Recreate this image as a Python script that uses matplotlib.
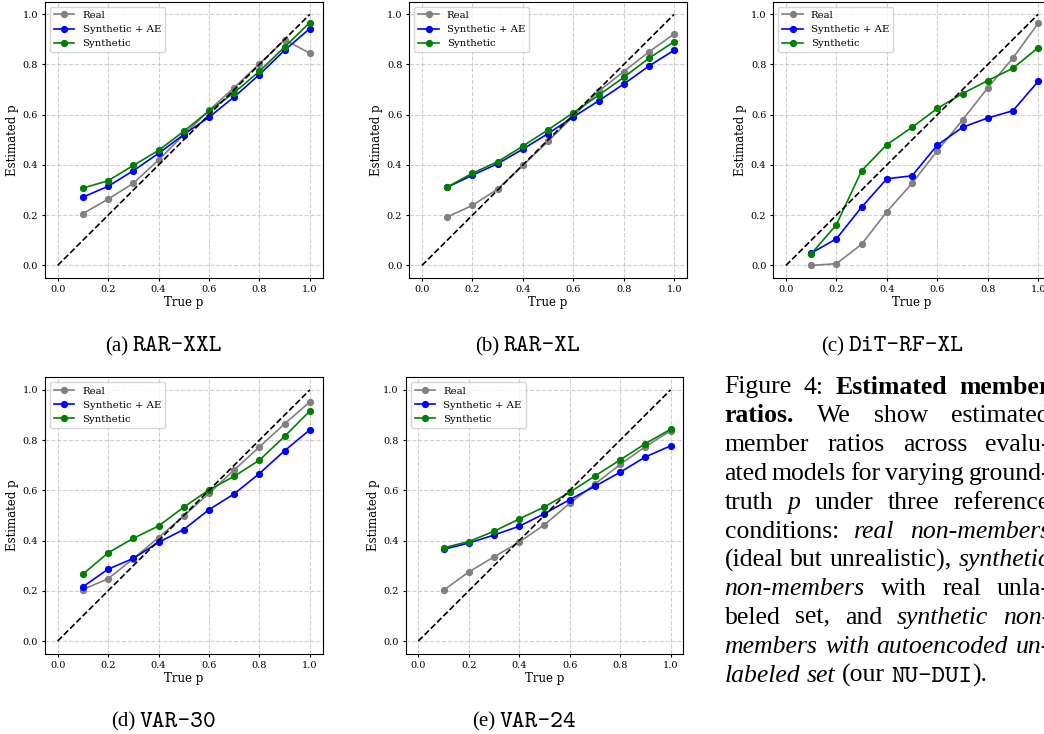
import os
import matplotlib
matplotlib.use("Agg")
import matplotlib.pyplot as plt
from matplotlib.font_manager import FontProperties

# true member ratio on the x axis
p_true = [0.1, 0.2, 0.3, 0.4, 0.5, 0.6, 0.7, 0.8, 0.9, 1.0]

# (a) RAR-XXL
rar_xxl_real = [0.206, 0.264, 0.327, 0.420, 0.520, 0.617, 0.708, 0.803, 0.898, 0.845]
rar_xxl_ae = [0.272, 0.315, 0.377, 0.446, 0.521, 0.590, 0.671, 0.760, 0.857, 0.943]
rar_xxl_syn = [0.308, 0.337, 0.398, 0.458, 0.534, 0.615, 0.688, 0.773, 0.870, 0.967]

# (b) RAR-XL
rar_xl_real = [0.193, 0.239, 0.304, 0.398, 0.494, 0.594, 0.693, 0.772, 0.850, 0.922]
rar_xl_ae = [0.311, 0.359, 0.405, 0.463, 0.525, 0.591, 0.655, 0.722, 0.794, 0.857]
rar_xl_syn = [0.312, 0.367, 0.413, 0.475, 0.540, 0.608, 0.677, 0.749, 0.825, 0.891]

# (c) DiT-RF-XL
dit_real = [0.000, 0.007, 0.084, 0.214, 0.327, 0.456, 0.579, 0.707, 0.826, 0.964]
dit_ae = [0.049, 0.106, 0.232, 0.345, 0.357, 0.479, 0.550, 0.587, 0.616, 0.733]
dit_syn = [0.046, 0.162, 0.377, 0.481, 0.550, 0.625, 0.684, 0.736, 0.785, 0.867]

# (d) VAR-30
var30_real = [0.205, 0.248, 0.328, 0.412, 0.498, 0.588, 0.681, 0.773, 0.865, 0.952]
var30_ae = [0.216, 0.286, 0.329, 0.393, 0.444, 0.523, 0.586, 0.667, 0.758, 0.841]
var30_syn = [0.266, 0.351, 0.409, 0.458, 0.533, 0.602, 0.656, 0.720, 0.815, 0.916]

# (e) VAR-24
var24_real = [0.202, 0.275, 0.335, 0.394, 0.463, 0.548, 0.625, 0.703, 0.774, 0.837]
var24_ae = [0.365, 0.390, 0.422, 0.457, 0.507, 0.563, 0.616, 0.672, 0.733, 0.777]
var24_syn = [0.371, 0.396, 0.437, 0.486, 0.534, 0.592, 0.657, 0.721, 0.786, 0.843]

ticks = [0.0, 0.2, 0.4, 0.6, 0.8, 1.0]

W, H = 1044, 734
plt.rcParams["font.family"] = "DejaVu Serif"
fig = plt.figure(figsize=(W / 100, H / 100), dpi=100)

# (tag, model name, real, ae, syn, left px, top px)
panels = [
    ("(a)", "RAR-XXL", rar_xxl_real, rar_xxl_ae, rar_xxl_syn, 45.0, 1.7),
    ("(b)", "RAR-XL", rar_xl_real, rar_xl_ae, rar_xl_syn, 409.3, 1.7),
    ("(c)", "DiT-RF-XL", dit_real, dit_ae, dit_syn, 773.3, 1.7),
    ("(d)", "VAR-30", var30_real, var30_ae, var30_syn, 45.0, 377.3),
    ("(e)", "VAR-24", var24_real, var24_ae, var24_syn, 405.7, 377.3),
]
ax_w, ax_h = 277.5, 276.3

renderer = fig.canvas.get_renderer()

# typewriter font: the cmtt10 file that ships with matplotlib
tt_file = os.path.join(matplotlib.get_data_path(), "fonts", "ttf", "cmtt10.ttf")


def font_for(style, size):
    if style == "tt":
        if os.path.exists(tt_file):
            return FontProperties(fname=tt_file, size=size)
        return FontProperties(family="DejaVu Sans Mono", size=size)
    if style == "bf":
        return FontProperties(family="Liberation Serif", weight="bold", size=size)
    if style == "it":
        return FontProperties(family="Liberation Serif", style="italic", size=size)
    return FontProperties(family="Liberation Serif", size=size)


def put_pieces(pieces, x, y, size, tt_size=None):
    # draw a list of (text, style) side by side, x/y in pixels from top-left
    objs = []
    for s, st in pieces:
        fs = tt_size if (st == "tt" and tt_size) else size
        t = fig.text(x / W, 1 - y / H, s, fontproperties=font_for(st, fs),
                     va="baseline", ha="left")
        w = t.get_window_extent(renderer=renderer).width
        objs.append((t, w))
        x += w
    return objs


def move_pieces(objs, x, y):
    for t, w in objs:
        t.set_position((x / W, 1 - y / H))
        x += w


for tag, name, real, ae, syn, left, top in panels:
    ax = fig.add_axes([left / W, 1 - (top + ax_h) / H, ax_w / W, ax_h / H])
    ax.plot(p_true, real, "-o", color="gray", lw=1.2, ms=4.2, label="Real")
    ax.plot(p_true, ae, "-o", color="blue", lw=1.2, ms=4.2, label="Synthetic + AE")
    ax.plot(p_true, syn, "-o", color="green", lw=1.2, ms=4.2, label="Synthetic")
    ax.plot([0, 1], [0, 1], "k--", lw=1.2)
    ax.set_xticks(ticks)
    ax.set_yticks(ticks)
    ax.tick_params(labelsize=7, length=2.5, pad=2.5)
    ax.set_xlabel("True p", fontsize=8.5, labelpad=1.5)
    ax.set_ylabel("Estimated p", fontsize=8.5, labelpad=2.5)
    ax.grid(True, linestyle="--", alpha=0.6)
    ax.legend(loc="upper left", fontsize=7.3)

    # sub caption under each panel
    objs = put_pieces([(tag, "rm"), (name, "tt")], 0, 0, 15, tt_size=17.5)
    gap = 4
    total = objs[0][1] + gap + objs[1][1]
    x0 = left + ax_w / 2 - 20 - total / 2
    yb = 1 - (top + 349.5) / H
    objs[0][0].set_position((x0 / W, yb))
    objs[1][0].set_position(((x0 + objs[0][1] + gap) / W, yb))

# figure caption on the right, justified lines
caption_lines = [
    [("Figure 4: ", "rm"), ("Estimated member", "bf")],
    [("ratios. ", "bf"), ("We show estimated", "rm")],
    [("member ratios across evalu-", "rm")],
    [("ated models for varying ground-", "rm")],
    [("truth ", "rm"), ("p", "it"), (" under three reference", "rm")],
    [("conditions: ", "rm"), ("real non-members", "it")],
    [("(ideal but unrealistic), ", "rm"), ("synthetic", "it")],
    [("non-members", "it"), (" with real unla-", "rm")],
    [("beled set, and ", "rm"), ("synthetic non-", "it")],
    [("members with autoencoded un-", "it")],
    [("labeled set", "it"), (" (our ", "rm"), ("NU-DUI", "tt"), (").", "rm")],
]
cap_size = 18.5
cap_left, cap_right = 724.5, 1050.0
base0, step = 393.5, 28.8
space = 0.25 * cap_size * 100 / 72

for i, segs in enumerate(caption_lines):
    words = []
    new_word = True
    for text, st in segs:
        parts = text.split(" ")
        for j, part in enumerate(parts):
            if j > 0:
                new_word = True
            if part == "":
                continue
            if new_word:
                words.append([])
                new_word = False
            words[-1].append((part, st))
    y = base0 + i * step
    drawn = [put_pieces(wd, 0, y, cap_size, tt_size=18.5) for wd in words]
    widths = [sum(w for _, w in d) for d in drawn]
    if i < len(caption_lines) - 1 and len(words) > 1:
        gap = (cap_right - cap_left - sum(widths)) / (len(words) - 1)
    else:
        gap = space
    x = cap_left
    for d, w in zip(drawn, widths):
        move_pieces(d, x, y)
        x += w + gap

fig.savefig("out.png", dpi=100)
